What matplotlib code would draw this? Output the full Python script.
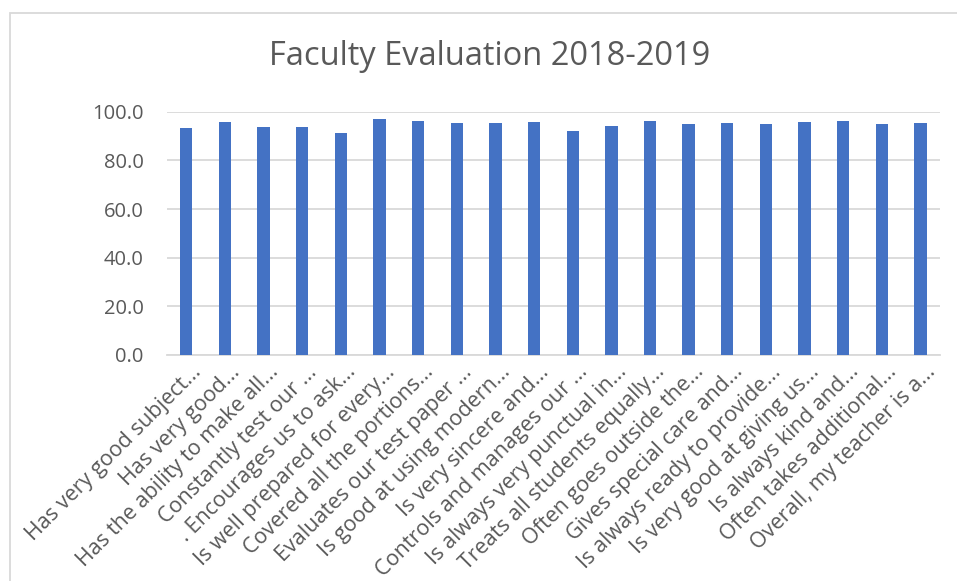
import matplotlib.pyplot as plt
from matplotlib.patches import Rectangle
from matplotlib.transforms import ScaledTranslation

# survey items (truncated like in the source sheet)
questions = [
    "Has very good subject...",
    "Has very good...",
    "Has the ability to make all...",
    "Constantly test our ...",
    ". Encourages us to ask...",
    "Is well prepared for every...",
    "Covered all the portions...",
    "Evaluates our test paper ...",
    "Is good at using modern...",
    "Is very sincere and...",
    "Controls and manages our ...",
    "Is always very punctual in...",
    "Treats all students equally...",
    "Often goes outside the...",
    "Gives special care and...",
    "Is always ready to provide...",
    "Is very good at giving us...",
    "Is always kind and...",
    "Often takes additional...",
    "Overall, my teacher is a...",
]
scores = [93.2, 95.6, 93.7, 93.7, 91.2, 97.0, 96.0, 95.3, 95.2, 95.8,
          91.9, 94.0, 96.3, 94.8, 95.2, 95.0, 95.6, 96.0, 94.8, 95.2]
yticks = [0, 20, 40, 60, 80, 100]

plt.rcParams['font.family'] = ['Open Sans', 'DejaVu Sans']
grey = '#595959'

fig = plt.figure(figsize=(9.57, 5.81), dpi=100)
ax = fig.add_axes([0.1745, 0.389, 0.8075, 0.4187])

x = range(len(questions))
ax.bar(x, scores, width=0.32, color='#4472C4', zorder=3)
ax.set_xlim(-0.5, len(questions) - 0.5)
ax.set_ylim(0, 100)
ax.set_yticks(yticks)
ax.set_yticklabels([f'{v:.1f}' for v in yticks], fontsize=14.5, color=grey)
ax.set_xticks(list(x))
ax.set_xticklabels(questions, rotation=45, ha='right', va='center',
                   rotation_mode='anchor', fontsize=15.5, color=grey)
ax.tick_params(axis='y', length=0, pad=17)
ax.tick_params(axis='x', length=0, pad=10)
shift = ScaledTranslation(12 / 100, 0, fig.dpi_scale_trans)
for lab in ax.get_xticklabels():
    lab.set_transform(lab.get_transform() + shift)
ax.grid(axis='y', color='#D9D9D9', linewidth=1.3, zorder=0)
for s in ['top', 'right', 'left']:
    ax.spines[s].set_visible(False)
ax.spines['bottom'].set_color('#D9D9D9')
ax.spines['bottom'].set_linewidth(1.3)

fig.text(0.512, 0.903, 'Faculty Evaluation 2018-2019', fontsize=23.5,
         color=grey, ha='center', va='center')

# chart frame
fig.patches.append(Rectangle((10 / 957, -0.1), 1.1, 1.1 - 13 / 581,
                             transform=fig.transFigure, fill=False,
                             edgecolor='#D9D9D9', linewidth=1.3))

fig.savefig('out.png', dpi=100)
